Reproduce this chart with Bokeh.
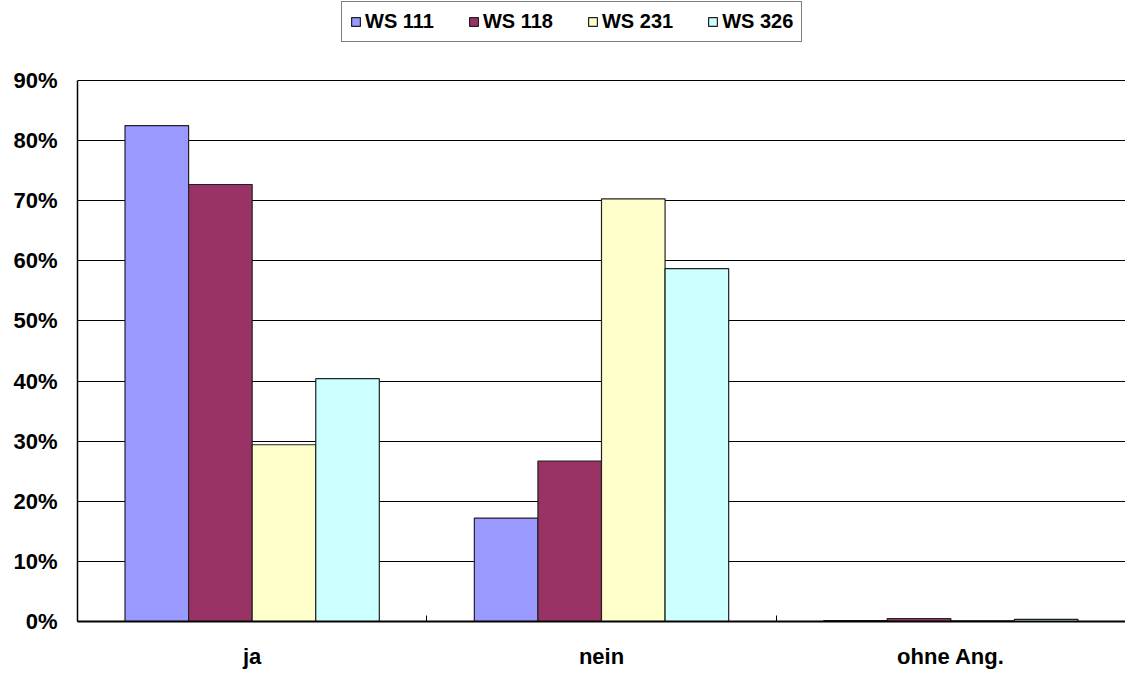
from bokeh.plotting import figure
from bokeh.models import (ColumnDataSource, Range1d, FixedTicker, PrintfTickFormatter,
                          Legend, LegendItem)
from bokeh.transform import dodge
from bokeh.embed import file_html
from bokeh.resources import INLINE

# ---- data ----
categories = ["ja", "nein", "ohne Ang."]
series_names = ["WS 111", "WS 118", "WS 231", "WS 326"]
ws111 = [82.5, 17.2, 0.15]
ws118 = [72.7, 26.7, 0.5]
ws231 = [29.4, 70.3, 0.1]
ws326 = [40.4, 58.7, 0.35]
y_ticks = [0, 10, 20, 30, 40, 50, 60, 70, 80, 90]
colors = ["#9999FF", "#993366", "#FFFFCC", "#CCFFFF"]

FONT = "Liberation Sans"

src = ColumnDataSource(dict(
    xc=[i + 0.5 for i in range(len(categories))],
    ws111=ws111, ws118=ws118, ws231=ws231, ws326=ws326,
))

H = 671
BOTTOM = 50
frame_bottom = H - BOTTOM          # 621 px
top_of_scale = 80                  # px where 90% sits
y_max = 90 * frame_bottom / (frame_bottom - top_of_scale)   # frame extends to the top so the legend fits inside it

p = figure(width=1125, height=H, output_backend="svg", toolbar_location=None,
           x_range=Range1d(0, len(categories)), y_range=Range1d(0, y_max),
           min_border_left=77, min_border_right=0, min_border_top=0, min_border_bottom=BOTTOM,
           background_fill_color="white", border_fill_color="white")
p.outline_line_color = None

bw = 0.182
offsets = [-1.5 * bw, -0.5 * bw, 0.5 * bw, 1.5 * bw]
cols = ["ws111", "ws118", "ws231", "ws326"]
renderers = []
for col, off, c in zip(cols, offsets, colors):
    r = p.vbar(x=dodge("xc", off, range=p.x_range), top=col, bottom=0, width=bw,
               source=src, fill_color=c, line_color="#222222", line_width=1.2)
    renderers.append(r)

# y axis
p.yaxis.ticker = FixedTicker(ticks=y_ticks)
p.yaxis.bounds = (0, 90)
p.yaxis.formatter = PrintfTickFormatter(format="%d%%")
p.yaxis.major_label_text_font = FONT
p.yaxis.major_label_text_font_style = "bold"
p.yaxis.major_label_text_font_size = "22px"
p.yaxis.major_label_text_color = "black"
p.yaxis.major_tick_out = 0
p.yaxis.major_tick_in = 0
p.yaxis.minor_tick_out = 0
p.yaxis.minor_tick_in = 0
p.yaxis.major_label_standoff = 20
p.yaxis.axis_line_color = "black"
p.yaxis.axis_line_width = 1.5

# x axis
p.xaxis.ticker = FixedTicker(ticks=[i + 0.5 for i in range(len(categories))],
                             minor_ticks=list(range(len(categories) + 1)))
p.xaxis.major_label_overrides = {i + 0.5: c for i, c in enumerate(categories)}
p.xaxis.major_label_text_font = FONT
p.xaxis.major_label_text_font_style = "bold"
p.xaxis.major_label_text_font_size = "22px"
p.xaxis.major_label_text_color = "black"
p.xaxis.major_tick_in = 0
p.xaxis.major_tick_out = 0
p.xaxis.minor_tick_in = 6
p.xaxis.minor_tick_out = 0
p.xaxis.minor_tick_line_color = "black"
p.xaxis.major_label_standoff = 22
p.xaxis.axis_line_color = "black"
p.xaxis.axis_line_width = 2

# grid
p.xgrid.grid_line_color = None
p.ygrid.grid_line_color = "black"
p.ygrid.grid_line_width = 1
p.ygrid.grid_line_alpha = 1.0

# legend (bottom-left corner offset from the frame's bottom-left)
items = [LegendItem(label=n, renderers=[r]) for n, r in zip(series_names, renderers)]
legend = Legend(items=items, orientation="horizontal", location=(341 - 77, frame_bottom - 42),
                margin=0, padding=8, spacing=34, label_standoff=4,
                glyph_width=11, glyph_height=11,
                label_text_font=FONT, label_text_font_style="bold",
                label_text_font_size="20px", label_text_color="black",
                border_line_color="black", border_line_width=1,
                background_fill_color="white", background_fill_alpha=1.0)
p.add_layout(legend, "center")

open("out.html", "w").write(file_html(p, INLINE))
